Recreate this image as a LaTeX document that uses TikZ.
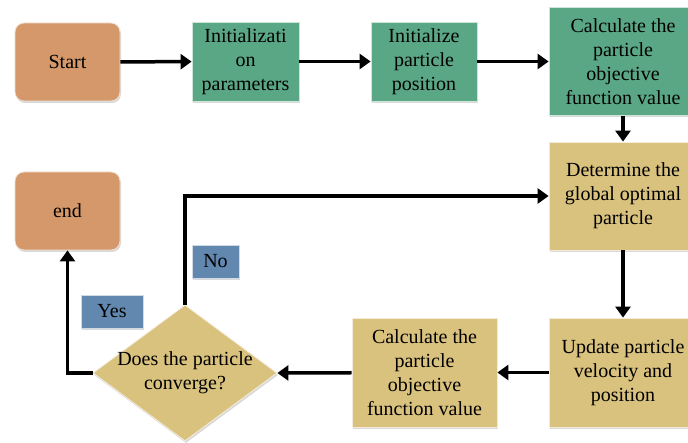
\documentclass[tikz,border=0pt]{standalone}
\usepackage{fontspec}
\setmainfont{Liberation Serif}
\newfontfamily\flowfont{Liberation Serif}
\usetikzlibrary{arrows.meta,shapes.geometric,shadows}
\definecolor{termcol}{RGB}{212,152,106}
\definecolor{initcol}{RGB}{90,167,134}
\definecolor{loopcol}{RGB}{217,193,126}
\definecolor{tagcol}{RGB}{99,136,176}
\begin{document}
\begin{tikzpicture}[x=1pt,y=-1pt,>={Triangle[length=11pt,width=15pt]},
  box/.style={draw=white!70!#1,line width=0.8pt,fill=#1,
    drop shadow={shadow xshift=1pt,shadow yshift=-2pt,opacity=0.3},
    align=center,inner sep=0pt,font=\flowfont\fontsize{20}{24}\selectfont},
  term/.style={box=termcol,rounded corners=9pt,minimum width=105pt,minimum height=78pt},
  tag/.style={box=tagcol,minimum height=33pt},
  flow/.style={->,line width=3.5pt}]
\useasboundingbox (0,0) rectangle (688,443);

\node[term] (start) at (67.5,62) {Start};
\node[box=initcol,minimum width=107pt,minimum height=79pt] (param) at (245.5,61.5) {Initializati\\on\\parameters};
\node[box=initcol,minimum width=106pt,minimum height=79pt] (pos) at (424,61.5) {Initialize\\particle\\position};
\node[box=initcol,minimum width=148pt,minimum height=108pt] (calcA) at (623,61.5) {Calculate the\\particle\\objective\\function value};
\node[box=loopcol,minimum width=148pt,minimum height=108pt] (best) at (623,196) {Determine the\\global optimal\\particle};
\node[box=loopcol,minimum width=148pt,minimum height=109pt] (upd) at (623,372.5) {Update particle\\velocity and\\position};
\node[box=loopcol,minimum width=145pt,minimum height=109pt] (calcB) at (424.5,372.5) {Calculate the\\particle\\objective\\function value};
\node[box=loopcol,diamond,minimum width=184pt,minimum height=136pt] (conv) at (185,373) {};
\node[align=center,font=\flowfont\fontsize{20}{24}\selectfont] at (conv) {Does the particle\\converge?};
\node[term] (end) at (67.5,211) {end};
\node[tag,minimum width=62pt] (yes) at (112,311.5) {Yes};
\node[tag,minimum width=47pt] (no) at (215.5,261.5) {No};

\draw[flow] (start) -- (param);
\draw[flow] (param) -- (pos);
\draw[flow] (pos) -- (calcA.west |- pos);
\draw[flow] (calcA) -- (best);
\draw[flow] (best) -- (upd);
\draw[flow] (upd) -- (calcB);
\draw[flow] (calcB) -- (conv.east);
\draw[flow] (conv.west) -| (end);
\draw[flow] (conv.north) |- (best.west);
\end{tikzpicture}
\end{document}
